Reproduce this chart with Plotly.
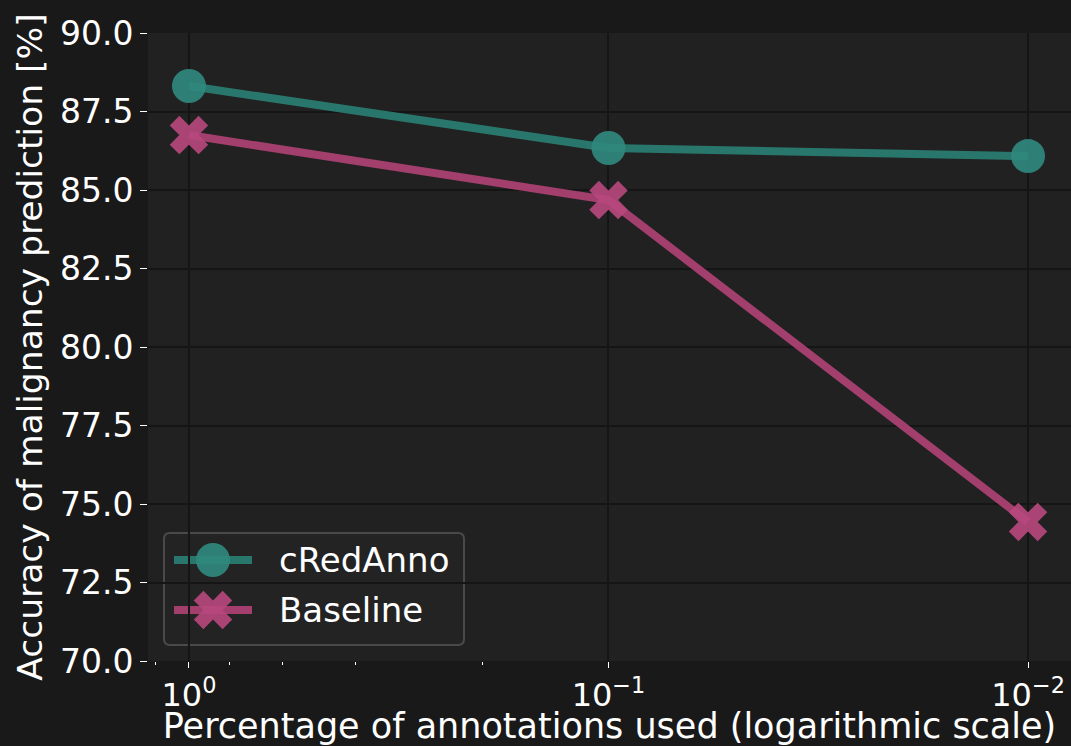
import plotly.graph_objects as go

fractions = [1, 0.1, 0.01]
credanno = [88.31, 86.34, 86.08]
baseline = [86.75, 84.68, 74.43]
series_names = ["cRedAnno", "Baseline"]
x_tickvals = [1, 0.1, 0.01]
x_ticktext = ["10<sup>0</sup>", "10<sup>−1</sup>", "10<sup>−2</sup>"]
y_tickvals = [70.0, 72.5, 75.0, 77.5, 80.0, 82.5, 85.0, 87.5, 90.0]

teal_line = "rgba(42,128,116,0.9)"
teal_mark = "rgba(48,138,126,0.9)"
pink_line = "rgba(176,66,118,0.9)"
pink_mark = "rgba(184,72,126,0.9)"

W, H = 1071, 746
L, R, T, B = 148, 0, 33, 85
pw, ph = W - L - R, H - T - B


def px(x):
    return (x - L) / pw


def py(y):
    return (H - B - y) / ph


fig = go.Figure()
fig.add_trace(go.Scatter(
    x=fractions, y=credanno, name=series_names[0], mode="lines+markers",
    line=dict(color=teal_line, width=8),
    marker=dict(symbol="circle", size=34, color=teal_mark, line=dict(width=0)),
    showlegend=False,
))
fig.add_trace(go.Scatter(
    x=fractions, y=baseline, name=series_names[1], mode="lines+markers",
    line=dict(color=pink_line, width=8),
    marker=dict(symbol="x", size=34, color=pink_mark, line=dict(width=0)),
    showlegend=False,
))

# manual legend (large samples like the reference)
shapes = []
bx0, bx1, by0, by1 = 164, 464, 533, 645
rad = 6
path = (f"M {bx0+rad},{by0} L {bx1-rad},{by0} Q {bx1},{by0} {bx1},{by0+rad} "
        f"L {bx1},{by1-rad} Q {bx1},{by1} {bx1-rad},{by1} L {bx0+rad},{by1} "
        f"Q {bx0},{by1} {bx0},{by1-rad} L {bx0},{by0+rad} Q {bx0},{by0} {bx0+rad},{by0} Z")


def conv_path(p):
    out = []
    for tok in p.split(" "):
        if "," in tok:
            a, b = tok.split(",")
            out.append(f"{px(float(a)):.5f},{py(float(b)):.5f}")
        else:
            out.append(tok)
    return " ".join(out)


shapes.append(dict(type="path", xref="paper", yref="paper", path=conv_path(path),
                   fillcolor="rgba(36,36,36,0.8)", line=dict(color="#4a4a4a", width=2),
                   layer="between"))
leg_rows = [(560, teal_line, teal_mark, "circle"), (610, pink_line, pink_mark, "x")]
for (yy, lc, mc, sym), nm in zip(leg_rows, series_names):
    shapes.append(dict(type="line", xref="paper", yref="paper",
                       x0=px(174), x1=px(252), y0=py(yy), y1=py(yy),
                       line=dict(color=lc, width=8), layer="between"))
    fig.add_trace(go.Scatter(
        x=[px(213)], y=[py(yy)], xaxis="x2", yaxis="y2", mode="markers",
        marker=dict(symbol=sym, size=34, color=mc, line=dict(width=0)),
        showlegend=False, hoverinfo="skip",
    ))
    fig.add_annotation(x=px(277), y=py(yy), xref="paper", yref="paper",
                       text=nm, showarrow=False, xanchor="left", yanchor="middle",
                       font=dict(size=34, color="white"))

font = "DejaVu Sans"
fig.update_layout(
    width=W, height=H,
    paper_bgcolor="#191919", plot_bgcolor="#212121",
    margin=dict(l=L, r=R, t=T, b=B),
    font=dict(family=font, size=34, color="white"),
    showlegend=False,
    shapes=shapes,
    xaxis=dict(
        type="log", range=[0.0976, -2.1024],
        tickvals=x_tickvals, ticktext=x_ticktext,
        ticks="outside", ticklen=6, tickcolor="white", tickwidth=1,
        showgrid=True, gridcolor="#151515", gridwidth=1.5,
        zeroline=False, showline=False,
        minor=dict(ticks="outside", ticklen=3, tickcolor="white", showgrid=False),
        title=dict(text="Percentage of annotations used (logarithmic scale)",
                   font=dict(size=35), standoff=0),
        tickfont=dict(size=32), automargin=False,
    ),
    yaxis=dict(
        range=[70, 90], tickvals=y_tickvals,
        tickformat=".1f",
        ticks="outside", ticklen=7, tickcolor="white", tickwidth=1,
        showgrid=True, gridcolor="#151515", gridwidth=1.5,
        zeroline=False, showline=False,
        title=dict(text="Accuracy of malignancy prediction [%]",
                   font=dict(size=34.5), standoff=6),
        tickfont=dict(size=33), automargin=False,
    ),
    xaxis2=dict(overlaying="x", range=[0, 1], visible=False, fixedrange=True),
    yaxis2=dict(overlaying="y", range=[0, 1], visible=False, fixedrange=True),
)

fig.write_html("out.html", config={"displayModeBar": False},
               post_script="document.body.style.margin='0';document.body.style.padding='0';document.body.style.overflow='hidden';")
